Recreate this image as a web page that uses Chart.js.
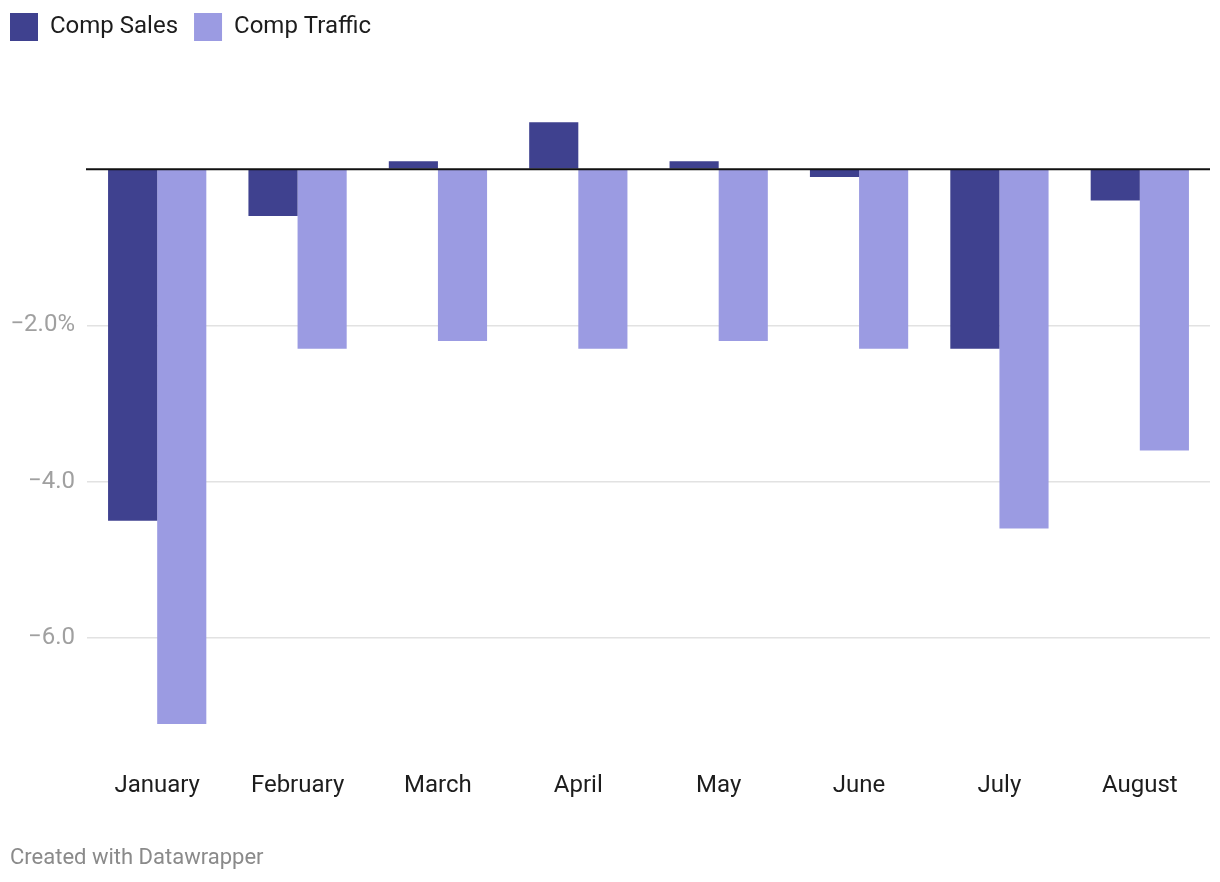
<!DOCTYPE html>
<html>

<head>
    <title>Comp Sales and Traffic</title>
    <script src="https://cdn.jsdelivr.net/npm/chart.js"></script>
    <style>
        body { margin: 0; background: #fff; font-family: Roboto, sans-serif; }
        #wrap { position: relative; width: 1220px; height: 882px; }
        #footer { position: absolute; left: 10px; top: 844px; font-size: 22px; color: #8a8a8a; }
    </style>
</head>

<body>
    <div id="wrap">
        <canvas id="compChart" width="1220" height="882"></canvas>
        <div id="footer">Created with Datawrapper</div>
    </div>

    <script>
        // data (percent)
        const months = ['January', 'February', 'March', 'April', 'May', 'June', 'July', 'August'];
        const compSales = [-4.5, -0.6, 0.1, 0.6, 0.1, -0.1, -2.3, -0.4];
        const compTraffic = [-7.1, -2.3, -2.2, -2.3, -2.2, -2.3, -4.6, -3.6];
        const yTicks = [-6, -4, -2, 0];
        const yTickLabels = { '-6': '\u22126.0', '-4': '\u22124.0', '-2': '\u22122.0%', '0': '' };

        // zero line on top of the bars
        const zeroLine = {
            id: 'zeroLine',
            afterDatasetsDraw(chart) {
                const y = chart.scales.y.getPixelForValue(0);
                const { left, right } = chart.chartArea;
                const c = chart.ctx;
                c.save();
                c.strokeStyle = '#111';
                c.lineWidth = 2;
                c.beginPath();
                c.moveTo(left - 1, y);
                c.lineTo(right, y);
                c.stroke();
                c.restore();
            }
        };

        // fixed legend height so the plot starts where it should
        const legendHeight = {
            id: 'legendHeight',
            beforeInit(chart) {
                const fit = chart.legend.fit;
                chart.legend.fit = function () {
                    fit.bind(chart.legend)();
                    this.height = 94;
                };
            }
        };

        const ctx = document.getElementById('compChart').getContext('2d');
        const chart = new Chart(ctx, {
            type: 'bar',
            data: {
                labels: months,
                datasets: [{
                    label: 'Comp Sales',
                    data: compSales,
                    backgroundColor: '#3f418f'
                }, {
                    label: 'Comp Traffic',
                    data: compTraffic,
                    backgroundColor: '#9b9be2'
                }]
            },
            plugins: [zeroLine, legendHeight],
            options: {
                responsive: false,
                animation: false,
                layout: { padding: { left: -6, right: 10, top: -3, bottom: 74 } },
                categoryPercentage: 0.7,
                barPercentage: 1.0,
                plugins: {
                    tooltip: { enabled: false },
                    legend: {
                        position: 'top',
                        align: 'start',
                        labels: {
                            boxWidth: 28,
                            boxHeight: 28,
                            padding: 16,
                            color: '#1d1d1d',
                            font: { family: 'Roboto', size: 24 }
                        }
                    }
                },
                scales: {
                    x: {
                        grid: { display: false },
                        border: { display: false },
                        ticks: {
                            color: '#1d1d1d',
                            padding: 8,
                            font: { family: 'Roboto', size: 24 }
                        }
                    },
                    y: {
                        min: -7.5,
                        max: 1.0,
                        afterBuildTicks: (axis) => { axis.ticks = yTicks.map(v => ({ value: v })); },
                        afterFit: (axis) => { axis.width = 93; },
                        grid: {
                            drawTicks: false,
                            color: (c) => c.tick.value === 0 ? 'rgba(0,0,0,0)' : '#e2e2e2',
                            lineWidth: 1.5
                        },
                        border: { display: false },
                        ticks: {
                            padding: 12,
                            color: '#a0a0a0',
                            font: { family: 'Roboto', size: 24 },
                            callback: (v) => yTickLabels[String(v)]
                        }
                    }
                }
            }
        });
    </script>
</body>

</html>
